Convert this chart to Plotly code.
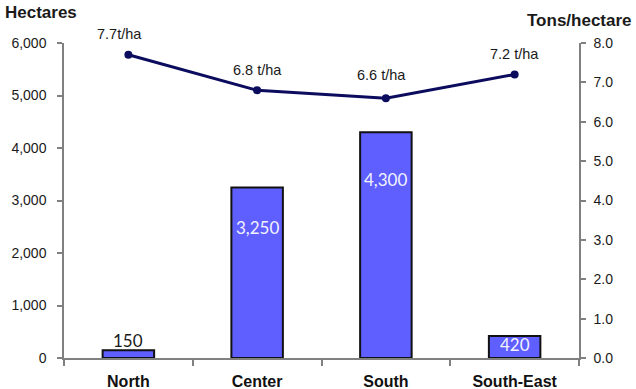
import plotly.graph_objects as go

# Regional rice data
regions = ["North", "Center", "South", "South-East"]
area_ha = [150, 3250, 4300, 420]          # planted area, hectares
yield_tha = [7.7, 6.8, 6.6, 7.2]          # yield, tons/hectare
yield_sep = ["", " ", " ", " "]           # spacing used in the yield labels

left_ticks = [0, 1000, 2000, 3000, 4000, 5000, 6000]
right_ticks = [0, 1, 2, 3, 4, 5, 6, 7, 8]

# label placement offsets (pixels)
area_label_shift = [10, -40, -47, -9]
area_label_color = ["#1a1a1a", "#f2f2ff", "#f2f2ff", "#f2f2ff"]
yield_label_shift = [21, 20, 23, 21]
yield_label_xshift = [-9, 0, -4, 0]

AXIS = "#808080"
SANS = "Liberation Sans, Arial, sans-serif"
TICKFONT = dict(family=SANS, size=14, color="#1a1a1a")

fig = go.Figure()

fig.add_trace(go.Bar(
    x=regions, y=area_ha,
    marker=dict(color="#5f5fff", line=dict(color="#111111", width=2)),
    width=0.4, yaxis="y", hoverinfo="skip",
))

fig.add_trace(go.Scatter(
    x=regions, y=yield_tha, yaxis="y2", mode="lines+markers",
    line=dict(color="#0c0c5e", width=3),
    marker=dict(color="#0c0c5e", size=8),
    hoverinfo="skip",
))

annotations = []
for r, v, dy, c in zip(regions, area_ha, area_label_shift, area_label_color):
    annotations.append(dict(
        x=r, y=v, xref="x", yref="y", text=f"{v:,}", showarrow=False,
        yshift=dy, font=dict(family="Lato, sans-serif", size=17, color=c),
    ))
for r, v, sep, dy, dx in zip(regions, yield_tha, yield_sep, yield_label_shift, yield_label_xshift):
    annotations.append(dict(
        x=r, y=v, xref="x", yref="y2", text=f"{v:.1f}{sep}t/ha", showarrow=False,
        yshift=dy, xshift=dx,
        font=dict(family=SANS, size=14.5, color="#1a1a1a"),
    ))

annotations.append(dict(
    x=-0.118, y=1.098, xref="paper", yref="paper", xanchor="left", yanchor="middle",
    text="<b>Hectares</b>", showarrow=False,
    font=dict(family=SANS, size=17, color="#1a1a1a"),
))
annotations.append(dict(
    x=1.107, y=1.073, xref="paper", yref="paper", xanchor="right", yanchor="middle",
    text="<b>Tons/hectare</b>", showarrow=False,
    font=dict(family=SANS, size=17, color="#1a1a1a"),
))

fig.update_layout(
    width=636, height=389,
    margin=dict(l=64, r=57, t=43, b=31),
    paper_bgcolor="white", plot_bgcolor="white",
    showlegend=False,
    xaxis=dict(
        type="category", range=[-0.5, 3.5], tickson="boundaries",
        ticks="outside", ticklen=6, tickcolor=AXIS, tickwidth=1.5,
        showline=True, linecolor=AXIS, linewidth=1.5, showgrid=False,
        tickfont=dict(family=SANS, size=16, color="#111111", weight="bold"),
        ticklabelstandoff=8, automargin=False,
    ),
    yaxis=dict(
        range=[0, 6000], tickvals=left_ticks, tickformat=",",
        ticks="outside", ticklen=5, tickcolor=AXIS, tickwidth=1.5,
        showline=True, linecolor=AXIS, linewidth=1.5, showgrid=False,
        zeroline=False, tickfont=TICKFONT, ticklabelstandoff=8, automargin=False,
    ),
    yaxis2=dict(
        overlaying="y", side="right", range=[0, 8], tickvals=right_ticks,
        tickformat=".1f", ticks="outside", ticklen=5, tickcolor=AXIS, tickwidth=1.5,
        showline=True, linecolor=AXIS, linewidth=1.5, showgrid=False,
        zeroline=False, tickfont=TICKFONT, ticklabelstandoff=5, automargin=False,
    ),
    annotations=annotations,
)

fig.write_html("out.html")
